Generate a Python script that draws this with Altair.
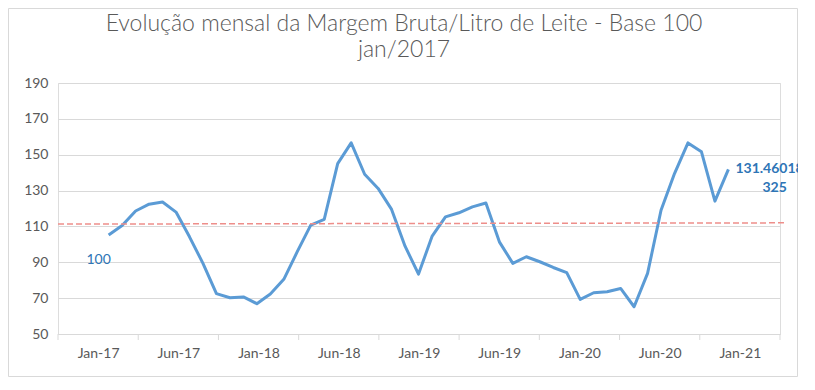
import altair as alt
import pandas as pd

# ---- data ----
months = list(range(47))  # month index, 0 = Jan-2017
values = [105.2, 110.5, 118.6, 122.4, 123.6, 118.0, 104.2, 89.4, 72.5, 70.2,
          70.7, 66.9, 72.3, 80.5, 95.9, 110.7, 113.9, 145.0, 156.6, 139.1,
          131.2, 119.5, 99.0, 83.4, 104.4, 115.3, 117.6, 120.9, 123.1, 101.4,
          89.4, 93.1, 90.3, 87.1, 84.2, 69.3, 73.0, 73.6, 75.4, 65.2,
          83.8, 119.0, 139.5, 156.6, 151.6, 124.1, 141.8]
tick_labels = ["Jan-17", "Jun-17", "Jan-18", "Jun-18", "Jan-19",
               "Jun-19", "Jan-20", "Jun-20", "Jan-21"]
y_ticks = [50, 70, 90, 110, 130, 150, 170, 190]
trend_x = [-3.76, 50.3]
trend_y = [111.3, 112.0]
first_label = "100"
last_label_lines = ["131.46018", "325"]

x_min, x_max = -3.76, 49.83
band = (x_max - x_min) / len(tick_labels)
tick_pos = [x_min + band * k for k in range(len(tick_labels) + 1)]
label_pos = [x_min + band * (k + 0.5) for k in range(len(tick_labels))]

W, H = 722, 251
FONT = "Lato"
GREY = "#595959"
GRID = "#D9D9D9"

df = pd.DataFrame({"t": months, "v": values})
trend = pd.DataFrame({"t": trend_x, "v": trend_y})
ticks = pd.DataFrame({"t": tick_pos})

xscale = alt.Scale(domain=[x_min, x_max], nice=False, zero=False)
yscale = alt.Scale(domain=[50, 190], nice=False, zero=False)

lab_arr = "[" + ",".join("'%s'" % s for s in tick_labels) + "]"
x_axis = alt.Axis(values=label_pos, ticks=False, grid=False, title=None,
                  labelExpr=f"{lab_arr}[round((datum.value - {label_pos[0]}) / {band})]",
                  domainColor=GRID, domainWidth=1, labelColor=GREY, labelFont=FONT,
                  labelFontSize=14, labelPadding=12, labelOverlap=False)
y_axis = alt.Axis(values=y_ticks, ticks=False, domain=False,
                  grid=True, gridColor=GRID, gridWidth=1, title=None,
                  labelColor=GREY, labelFont=FONT, labelFontSize=14, labelPadding=10,
                  labelOverlap=False, labelFlush=False)


def X():
    return alt.X("t:Q", scale=xscale, axis=x_axis)


def Y():
    return alt.Y("v:Q", scale=yscale, axis=y_axis)


line = alt.Chart(df).mark_line(color="#5B9BD5", strokeWidth=3, strokeJoin="round").encode(
    x=X(), y=Y())

trend_line = alt.Chart(trend).mark_line(color="#EE8E8A", strokeWidth=1.5,
                                        strokeDash=[6, 3]).encode(x=X(), y=Y())

tick_marks = alt.Chart(ticks).mark_rule(color=GRID, strokeWidth=1).encode(
    x=X(), y=alt.value(H), y2=alt.value(H + 6))

first = df.iloc[[0]].assign(txt=first_label)
last1 = df.iloc[[-1]].assign(txt=last_label_lines[0])
last2 = df.iloc[[-1]].assign(txt=last_label_lines[1])

lab_first = alt.Chart(first).mark_text(font=FONT, fontSize=14, color="#2E75B6",
                                       align="center", baseline="middle",
                                       dx=-10, dy=25).encode(x=X(), y=Y(), text="txt:N")
lab_last1 = alt.Chart(last1).mark_text(font=FONT, fontSize=14, fontWeight="bold",
                                       color="#2E75B6", align="left",
                                       baseline="middle", dx=7, dy=0).encode(
    x=X(), y=Y(), text="txt:N")
lab_last2 = alt.Chart(last2).mark_text(font=FONT, fontSize=14, fontWeight="bold",
                                       color="#2E75B6", align="left",
                                       baseline="middle", dx=34, dy=19).encode(
    x=X(), y=Y(), text="txt:N")

border = alt.Chart(pd.DataFrame({"a": [0]})).mark_rect(
    fill="white", fillOpacity=0, stroke=GRID, strokeWidth=1).encode(
    x=alt.value(-49.5), x2=alt.value(W + 17.5), y=alt.value(-74.5), y2=alt.value(H + 42.5))

chart = alt.layer(border, line, trend_line, tick_marks, lab_first, lab_last1, lab_last2).properties(
    width=W, height=H,
    title=alt.TitleParams(
        text=["Evolução mensal da Margem Bruta/Litro de Leite - Base 100", "jan/2017"],
        font=FONT, fontSize=23, fontWeight=300, color=GREY, anchor="middle",
        baseline="alphabetic", dx=-15, offset=-72, lineHeight=26),
    padding={"left": 50, "top": 75, "right": 18, "bottom": 43},
    autosize=alt.AutoSizeParams(type="none"),
).configure_view(stroke=None).configure(background="white")

chart.save("out.html", embed_options={"renderer": "svg", "actions": False})
